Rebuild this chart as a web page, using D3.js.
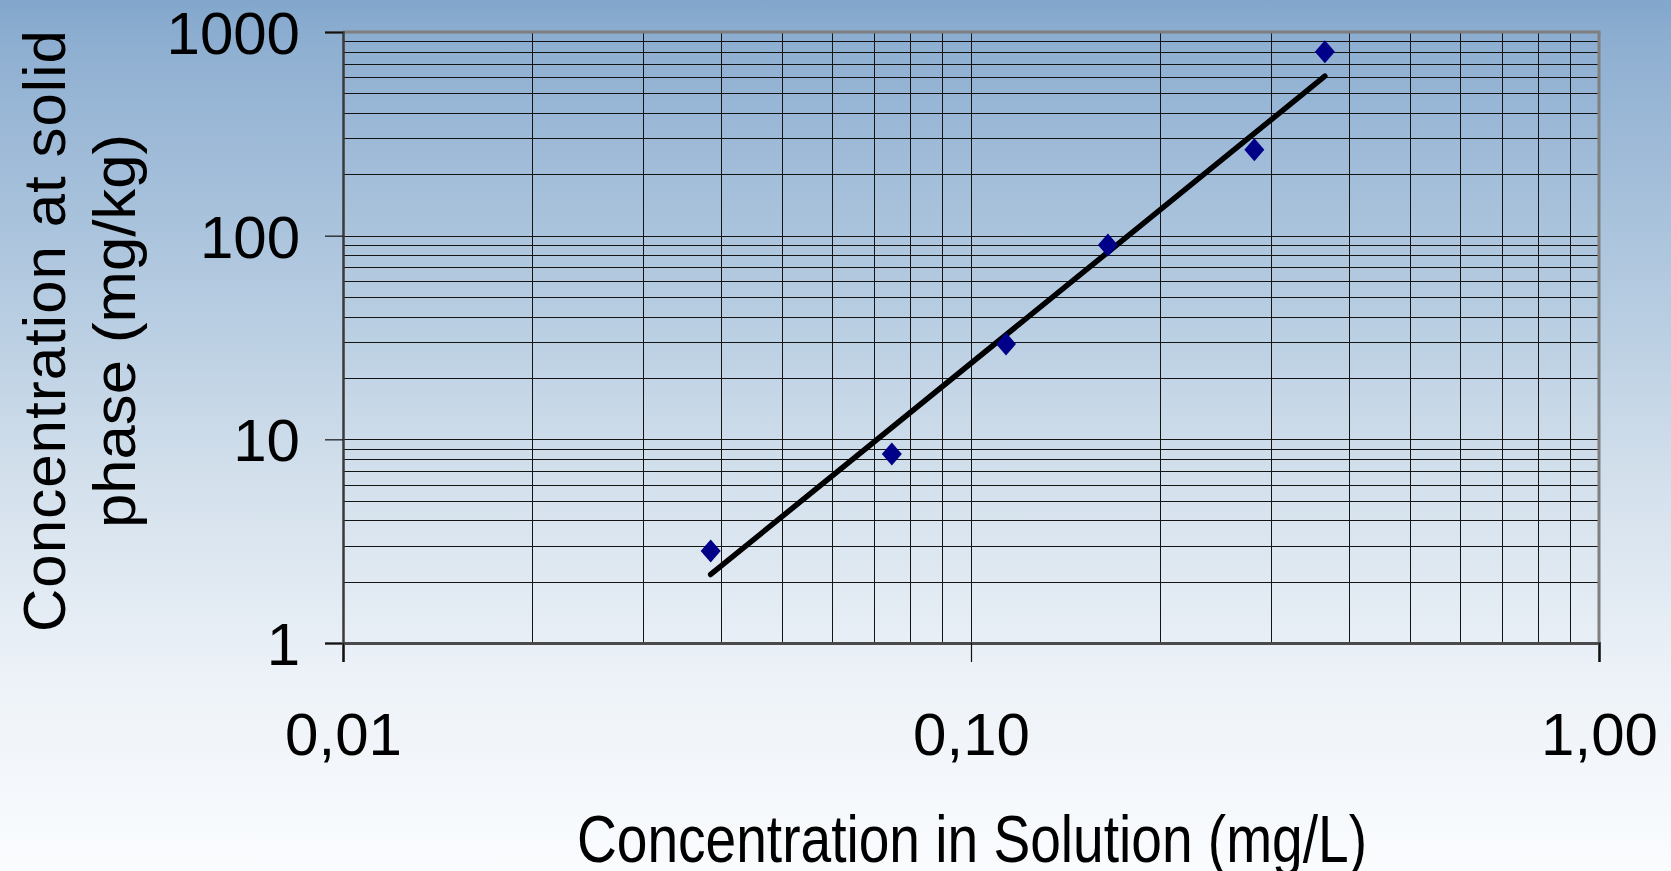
<!DOCTYPE html>
<html lang="en">
<head>
<meta charset="utf-8">
<title>Freundlich isotherm</title>
<script src="https://cdn.jsdelivr.net/npm/d3@7"></script>
<style>
  html, body { margin: 0; padding: 0; overflow: hidden; }
  body { background: #f4f8fb; }
  text { font-family: "Liberation Sans", Arial, sans-serif; fill: #000; }
  .grid line { stroke: #141414; stroke-width: 1; shape-rendering: crispEdges; }
</style>
</head>
<body>
<svg width="1671" height="871"></svg>
<script>
// measured points (solution conc. mg/L, solid phase conc. mg/kg)
var concSolution = [0.0385, 0.0748, 0.1137, 0.1652, 0.2826, 0.366];
var concSolid    = [2.83, 8.47, 29.4, 89.9, 264, 800];

// fitted trend line, end points
var fitX = [0.0385, 0.366];
var fitY = [2.17, 607];

var xTicks = [0.01, 0.1, 1];
var xTickLabels = ["0,01", "0,10", "1,00"];
var yTicks = [1, 10, 100, 1000];
var yTickLabels = ["1", "10", "100", "1000"];

// plot box ("top" is taken by window.top, so p* names)
var pLeft = 343, pRight = 1599, pTop = 32, pBottom = 643;

var svg = d3.select("svg");

// background
var defs = svg.append("defs");
var grad = defs.append("linearGradient").attr("id", "bg")
  .attr("x1", 0).attr("y1", 0).attr("x2", 0).attr("y2", 1);
grad.append("stop").attr("offset", "0").attr("stop-color", "#82a7cc");
grad.append("stop").attr("offset", "0.06").attr("stop-color", "#90b0d2");
grad.append("stop").attr("offset", "0.35").attr("stop-color", "#b6cce1");
grad.append("stop").attr("offset", "0.55").attr("stop-color", "#d3e0ec");
grad.append("stop").attr("offset", "0.78").attr("stop-color", "#edf2f8");
grad.append("stop").attr("offset", "1").attr("stop-color", "#fafcfe");
svg.append("rect").attr("width", 1671).attr("height", 871).attr("fill", "url(#bg)");

var x = d3.scaleLog().domain([0.01, 1]).range([pLeft, pRight]);
var y = d3.scaleLog().domain([1, 1000]).range([pBottom, pTop]);

// minor + major grid values
var xGrid = [], yGrid = [];
[0.01, 0.1].forEach(function(d) {
  for (var k = 1; k <= 9; k++) xGrid.push(d * k);
});
[1, 10, 100].forEach(function(d) {
  for (var k = 1; k <= 9; k++) yGrid.push(d * k);
});

var grid = svg.append("g").attr("class", "grid");
grid.selectAll("line.v")
  .data(xGrid.slice(1))
  .enter().append("line")
    .attr("class", "v")
    .attr("x1", function(d) { return Math.round(x(d)) + 0.5; })
    .attr("x2", function(d) { return Math.round(x(d)) + 0.5; })
    .attr("y1", pTop).attr("y2", pBottom);
grid.selectAll("line.h")
  .data(yGrid.slice(1))
  .enter().append("line")
    .attr("class", "h")
    .attr("x1", pLeft).attr("x2", pRight)
    .attr("y1", function(d) { return Math.round(y(d)) + 0.5; })
    .attr("y2", function(d) { return Math.round(y(d)) + 0.5; });

// plot border (top / right grey)
svg.append("line").attr("x1", pLeft).attr("x2", pRight + 1.5)
  .attr("y1", pTop).attr("y2", pTop)
  .attr("stroke", "#7f7f7f").attr("stroke-width", 3);
svg.append("line").attr("x1", pRight).attr("x2", pRight)
  .attr("y1", pTop).attr("y2", pBottom)
  .attr("stroke", "#7f7f7f").attr("stroke-width", 3);

// axes
var yAxis = d3.axisLeft(y)
  .tickValues(yTicks)
  .tickFormat(function(d, i) { return yTickLabels[i]; })
  .tickSize(18).tickPadding(25);
var gy = svg.append("g").attr("transform", "translate(" + pLeft + ",0)").call(yAxis);
gy.select(".domain").attr("stroke", "#3a3a3a").attr("stroke-width", 2.5);
gy.selectAll(".tick line").attr("stroke", "#111").attr("stroke-width", 1.2);
gy.selectAll(".tick text")
  .style("font-size", "60px")
  .attr("dy", "0.36em");

var xAxis = d3.axisBottom(x)
  .tickValues(xTicks)
  .tickFormat(function(d, i) { return xTickLabels[i]; })
  .tickSize(19).tickPadding(0);
var gx = svg.append("g").attr("transform", "translate(0," + pBottom + ")").call(xAxis);
gx.select(".domain").attr("stroke", "#4a4a4a").attr("stroke-width", 3);
gx.selectAll(".tick line").attr("stroke", "#111").attr("stroke-width", 1.2);
gx.selectAll(".tick text")
  .style("font-size", "60px")
  .attr("dy", null)
  .attr("y", 112);

// axis titles
svg.append("text")
  .attr("x", 972).attr("y", 862)
  .attr("text-anchor", "middle")
  .attr("textLength", 790).attr("lengthAdjust", "spacingAndGlyphs")
  .style("font-size", "66px")
  .text("Concentration in Solution (mg/L)");

var yt = svg.append("text")
  .attr("transform", "translate(65,331) rotate(-90)")
  .attr("text-anchor", "middle")
  .style("font-size", "60px");
yt.append("tspan").attr("x", 0).attr("y", 0)
  .attr("textLength", 602).attr("lengthAdjust", "spacing")
  .text("Concentration at solid");
yt.append("tspan").attr("x", 0).attr("y", 70)
  .attr("textLength", 394).attr("lengthAdjust", "spacingAndGlyphs")
  .text("phase (mg/kg)");

// trend line
var fit = fitX.map(function(d, i) { return [d, fitY[i]]; });
svg.append("path")
  .datum(fit)
  .attr("fill", "none")
  .attr("stroke", "#000")
  .attr("stroke-width", 5.5)
  .attr("stroke-linecap", "round")
  .attr("d", d3.line()
    .x(function(d) { return x(d[0]); })
    .y(function(d) { return y(d[1]); }));

// data points (diamonds)
svg.selectAll("path.pt")
  .data(concSolution)
  .enter().append("path")
    .attr("class", "pt")
    .attr("fill", "#000088")
    .attr("d", "M0,-11.5L10,0L0,11.5L-10,0Z")
    .attr("transform", function(d, i) {
      return "translate(" + x(d) + "," + y(concSolid[i]) + ")";
    });
</script>
</body>
</html>
